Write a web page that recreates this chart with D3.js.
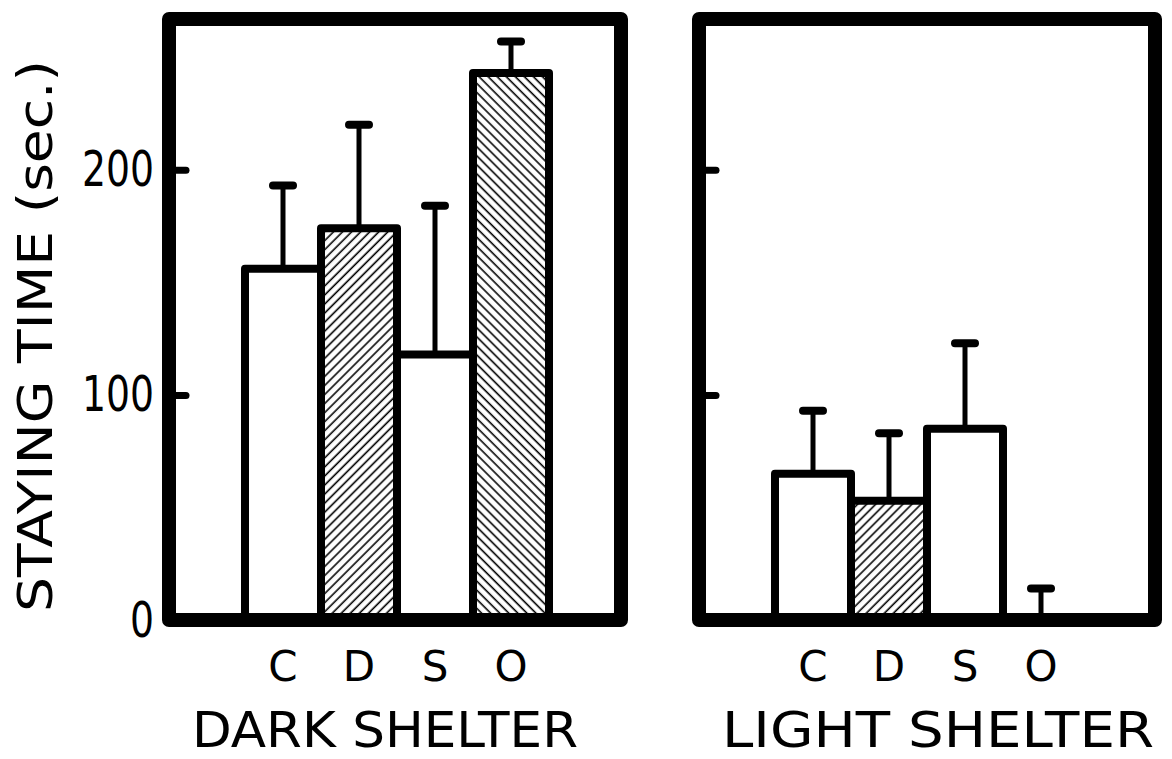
<!DOCTYPE html>
<html>
<head>
<meta charset="utf-8">
<script src="https://cdn.jsdelivr.net/npm/d3@7"></script>
<style>
	body { margin: 0; background: #fff; }
	text { font-family: "DejaVu Sans", sans-serif; fill: #000; }
</style>
</head>
<body>
<div id="chart"></div>
<script>
// values (seconds)
var categories = ['C', 'D', 'S', 'O'];
var hatches = ['none', 'fwd', 'none', 'back'];

var darkMeans = [156, 174, 118, 243];
var darkErrors = [37, 46, 66, 14];

var lightMeans = [65, 53, 85, 0];
var lightErrors = [28, 30, 38, 14];

var yTicks = [0, 100, 200];
var panelTitles = ['DARK SHELTER', 'LIGHT SHELTER'];
var yTitle = 'STAYING TIME (sec.)';

var width = 1172, height = 759;

var svg = d3.select('#chart').append('svg')
	.attr('width', width)
	.attr('height', height);

var defs = svg.append('defs');

function hatch(id, angle) {
	var p = defs.append('pattern')
		.attr('id', id)
		.attr('patternUnits', 'userSpaceOnUse')
		.attr('width', 6.4)
		.attr('height', 10)
		.attr('patternTransform', 'rotate(' + angle + ')');
	p.append('rect').attr('width', 6.4).attr('height', 10).attr('fill', '#fff');
	p.append('line')
		.attr('x1', 3).attr('x2', 3)
		.attr('y1', 0).attr('y2', 10)
		.attr('stroke', '#000')
		.attr('stroke-width', 1.6);
}
hatch('fwd', 45);
hatch('back', -45);

var y = d3.scaleLinear().domain([0, 267]).range([620, 19]);

var panels = [
	{ left: 169, right: 621, means: darkMeans, errors: darkErrors, title: panelTitles[0], labels: true, titleLen: 386 },
	{ left: 699, right: 1155, means: lightMeans, errors: lightErrors, title: panelTitles[1], labels: false, titleLen: 432 }
];

panels.forEach(function(p) {
	var x = d3.scaleBand()
		.domain(categories)
		.range([p.left + 76, p.left + 76 + 304])
		.padding(0);

	var g = svg.append('g');

	var rows = categories.map(function(c, i) {
		return { cat: c, mean: p.means[i], se: p.errors[i], hatch: hatches[i] };
	});

	// error bars
	rows.forEach(function(d) {
		var cx = x(d.cat) + x.bandwidth() / 2;
		g.append('line')
			.attr('x1', cx).attr('x2', cx)
			.attr('y1', y(d.mean)).attr('y2', y(d.mean + d.se))
			.attr('stroke', '#000')
			.attr('stroke-width', 5);
		g.append('line')
			.attr('x1', cx - 10).attr('x2', cx + 10)
			.attr('y1', y(d.mean + d.se)).attr('y2', y(d.mean + d.se))
			.attr('stroke', '#000')
			.attr('stroke-width', 8)
			.attr('stroke-linecap', 'round');
	});

	// bars
	g.selectAll('rect.bar')
		.data(rows.filter(function(d) { return d.mean > 0; }))
		.join('rect')
		.attr('class', 'bar')
		.attr('x', function(d) { return x(d.cat); })
		.attr('y', function(d) { return y(d.mean); })
		.attr('width', x.bandwidth())
		.attr('height', function(d) { return y(0) - y(d.mean); })
		.attr('fill', function(d) { return d.hatch == 'none' ? '#fff' : 'url(#' + d.hatch + ')'; })
		.attr('stroke', '#000')
		.attr('stroke-width', 8)
		.attr('stroke-linejoin', 'round');

	// frame
	g.append('rect')
		.attr('x', p.left)
		.attr('y', y(267))
		.attr('width', p.right - p.left)
		.attr('height', y(0) - y(267))
		.attr('fill', 'none')
		.attr('stroke', '#000')
		.attr('stroke-width', 14)
		.attr('stroke-linejoin', 'round');

	// ticks point inward, labels only on the left panel
	var axis = d3.axisLeft(y)
		.tickValues(yTicks)
		.tickSizeInner(-17)
		.tickSizeOuter(0)
		.tickPadding(15)
		.tickFormat(p.labels ? d3.format('d') : function() { return ''; });

	var ax = svg.append('g')
		.attr('transform', 'translate(' + p.left + ',0)')
		.call(axis);
	ax.select('.domain').remove();
	ax.selectAll('.tick line')
		.attr('stroke', '#000')
		.attr('stroke-width', 7)
		.attr('stroke-linecap', 'round');
	ax.selectAll('.tick text')
		.attr('font-size', 50)
		.attr('font-family', 'DejaVu Sans')
		.attr('fill', '#000')
		.attr('textLength', function(d) { return String(d).length * 24; })
		.attr('lengthAdjust', 'spacingAndGlyphs');

	// category letters
	svg.selectAll(null)
		.data(categories)
		.enter().append('text')
		.attr('x', function(d) { return x(d) + x.bandwidth() / 2; })
		.attr('y', 681)
		.attr('text-anchor', 'middle')
		.attr('font-size', 42)
		.text(function(d) { return d; });

	svg.append('text')
		.attr('x', p.left + 23)
		.attr('y', 747)
		.attr('font-size', 50)
		.attr('textLength', p.titleLen)
		.attr('lengthAdjust', 'spacingAndGlyphs')
		.text(p.title);
});

svg.append('text')
	.attr('transform', 'translate(52,336) rotate(-90)')
	.attr('text-anchor', 'middle')
	.attr('font-size', 48)
	.attr('textLength', 552)
	.attr('lengthAdjust', 'spacingAndGlyphs')
	.text(yTitle);
</script>
</body>
</html>
